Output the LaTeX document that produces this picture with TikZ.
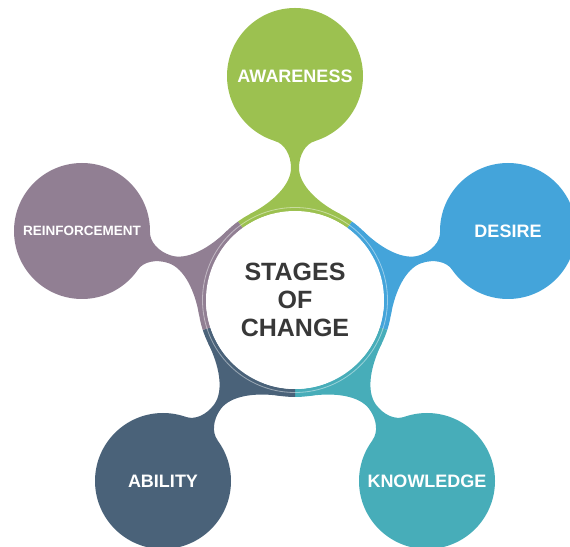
\documentclass[tikz,border=0pt]{standalone}
\usepackage{fontspec}
\setmainfont{Liberation Sans}

\definecolor{awareGreen}{HTML}{9CC150}
\definecolor{desireBlue}{HTML}{44A4DA}
\definecolor{knowTeal}{HTML}{47ADB9}
\definecolor{abilitySlate}{HTML}{4A6279}
\definecolor{reinfMauve}{HTML}{917F93}
\definecolor{coreText}{HTML}{383838}

% neck between the ring and one bubble: angle, colour
\newcommand{\neckshape}[2]{%
  \fill[#2, shift={(295,246)}, rotate=#1]
    (86,-45) .. controls (97.5,-22.7) and (115,-4) .. (132,-4)
    .. controls (145,-4) and (156.1,-10.4) .. (159,-20)
    -- (159,20)
    .. controls (156.1,10.4) and (145,4) .. (132,4)
    .. controls (115,4) and (97.5,22.7) .. (86,45) -- cycle;}

% ring segment: start angle, end angle, colour
\newcommand{\ringpart}[3]{%
  \fill[#3, shift={(295,246)}]
    (#1:97) arc[start angle=#1, end angle=#2, radius=97]
    -- (#2:89) arc[start angle=#2, end angle=#1, radius=89] -- cycle;}

\tikzset{
  bubble/.style={circle, minimum size=136pt, inner sep=0pt, text=white,
    font=\bfseries\fontsize{18}{18}\selectfont},
}

\begin{document}
\begin{tikzpicture}[x=1pt, y=1pt]
    \useasboundingbox (0,0) rectangle (570,546);
    \clip (0,0) rectangle (570,546);

    \neckshape{90}{awareGreen}
    \neckshape{18}{desireBlue}
    \neckshape{-54}{knowTeal}
    \neckshape{-126}{abilitySlate}
    \neckshape{162}{reinfMauve}

    \ringpart{54}{126}{awareGreen}
    \ringpart{-18}{54}{desireBlue}
    \ringpart{-90}{-18}{knowTeal}
    \ringpart{-162}{-90}{abilitySlate}
    \ringpart{126}{198}{reinfMauve}
    \draw[white, opacity=0.45, line width=0.8pt] (295,246) circle (92.5);

    \node[circle, fill=white, minimum size=178pt, inner sep=0pt, align=center,
      text=coreText, font=\bfseries\fontsize{25}{28}\selectfont]
      (core) at (295,246) {STAGES\\OF\\CHANGE};

    \node[bubble, fill=awareGreen] (awareness) at (295,470) {AWARENESS};
    \node[bubble, fill=desireBlue] (desire) at (508,315) {DESIRE};
    \node[bubble, fill=knowTeal] (knowledge) at (427,65) {KNOWLEDGE};
    \node[bubble, fill=abilitySlate] (ability) at (163,65) {ABILITY};
    \node[bubble, fill=reinfMauve,
      font=\bfseries\fontsize{13.5}{14}\selectfont] (reinforcement) at (82,315) {REINFORCEMENT};
\end{tikzpicture}
\end{document}
